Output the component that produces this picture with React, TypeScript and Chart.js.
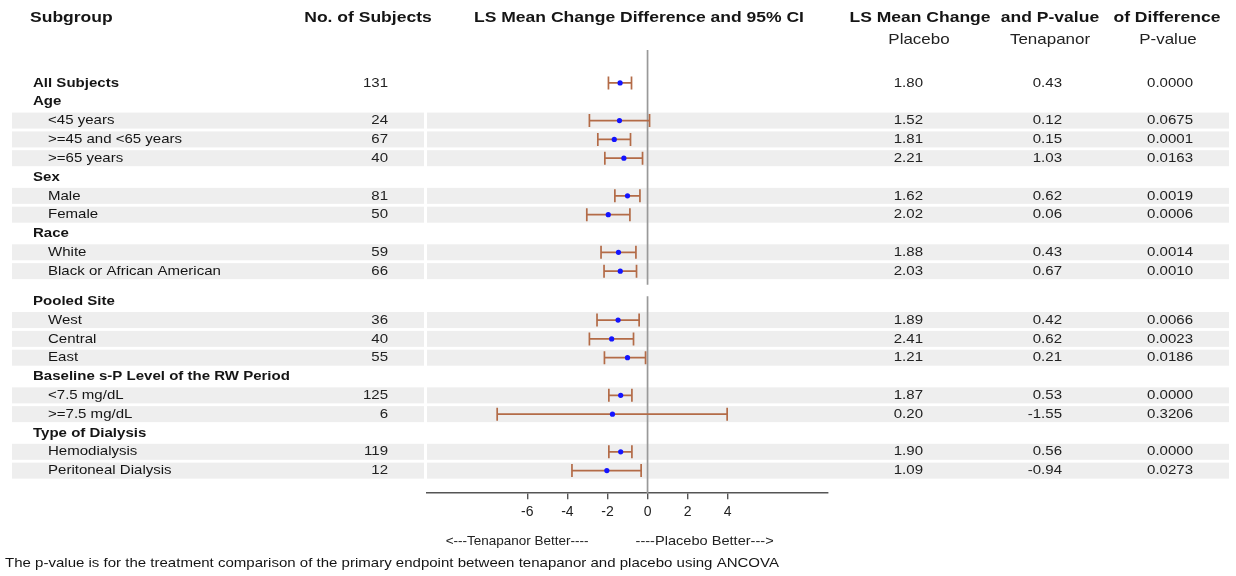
import React, { useEffect, useRef } from "react";
import { Chart, registerables } from "chart.js";

Chart.register(...registerables);

// ---------------- DATA ----------------
const subgroups = [
  "All Subjects", "Age", "<45 years", ">=45 and <65 years", ">=65 years",
  "Sex", "Male", "Female", "Race", "White", "Black or African American",
  "Pooled Site", "West", "Central", "East",
  "Baseline s-P Level of the RW Period", "<7.5 mg/dL", ">=7.5 mg/dL",
  "Type of Dialysis", "Hemodialysis", "Peritoneal Dialysis",
];
// 0 = bold heading row, 1 = indented subgroup row (shaded)
const rowLevel = [0, 0, 1, 1, 1, 0, 1, 1, 0, 1, 1, 0, 1, 1, 1, 0, 1, 1, 0, 1, 1];
const subjects = [131, null, 24, 67, 40, null, 81, 50, null, 59, 66, null, 36, 40, 55, null, 125, 6, null, 119, 12];
const placeboMean = [1.80, null, 1.52, 1.81, 2.21, null, 1.62, 2.02, null, 1.88, 2.03, null, 1.89, 2.41, 1.21, null, 1.87, 0.20, null, 1.90, 1.09];
const tenapanorMean = [0.43, null, 0.12, 0.15, 1.03, null, 0.62, 0.06, null, 0.43, 0.67, null, 0.42, 0.62, 0.21, null, 0.53, -1.55, null, 0.56, -0.94];
const pValues = ["0.0000", "", "0.0675", "0.0001", "0.0163", "", "0.0019", "0.0006", "", "0.0014", "0.0010", "", "0.0066", "0.0023", "0.0186", "", "0.0000", "0.3206", "", "0.0000", "0.0273"];
const diffEstimate = [-1.37, null, -1.40, -1.66, -1.18, null, -1.00, -1.96, null, -1.45, -1.36, null, -1.47, -1.79, -1.00, null, -1.34, -1.75, null, -1.34, -2.03];
const ciLower = [-1.95, null, -2.90, -2.48, -2.13, null, -1.63, -3.03, null, -2.32, -2.17, null, -2.52, -2.90, -2.15, null, -1.93, -7.50, null, -1.93, -3.77];
const ciUpper = [-0.80, null, 0.10, -0.85, -0.25, null, -0.38, -0.88, null, -0.58, -0.55, null, -0.42, -0.70, -0.10, null, -0.78, 3.97, null, -0.78, -0.32];
const xTicks = [-6, -4, -2, 0, 2, 4];

// page break between "Race" block and "Pooled Site" block
const GAP_INDEX = 11;
const GAP_SIZE = 0.6;
const rowPos = subgroups.map((_, i) => i + (i >= GAP_INDEX ? GAP_SIZE : 0));

// ---------------- STYLE ----------------
const FONT = "'Liberation Sans', Arial, sans-serif";
const SX = 1.13; // horizontal stretch of table text
const TEXT = "#151515";
const NUM = "#222222";
const BAND = "#eeeeee";
const CI_COLOR = "#b36b47";
const DOT_COLOR = "#1414ff";

function drawText(
  ctx: CanvasRenderingContext2D,
  text: string,
  x: number,
  y: number,
  align: "left" | "right" | "center",
  font: string,
  color = TEXT,
  sx = SX
) {
  ctx.save();
  ctx.font = font;
  ctx.fillStyle = color;
  ctx.textBaseline = "middle";
  ctx.textAlign = "left";
  const w = ctx.measureText(text).width * sx;
  const left = align === "left" ? x : align === "right" ? x - w : x - w / 2;
  ctx.translate(left, y);
  ctx.scale(sx, 1);
  ctx.fillText(text, 0, 0);
  ctx.restore();
}

const forestPlugin = {
  id: "forest",
  beforeDraw(chart: any) {
    const { ctx, scales } = chart;
    const y = scales.y;
    ctx.save();
    ctx.fillStyle = BAND;
    subgroups.forEach((_, i) => {
      if (rowLevel[i] !== 1) return;
      const py = y.getPixelForValue(rowPos[i]);
      ctx.fillRect(12, py - 8, 412, 16);
      ctx.fillRect(427, py - 8, 802, 16);
    });
    ctx.restore();
  },
  beforeDatasetsDraw(chart: any) {
    const { ctx, scales, chartArea } = chart;
    const x = scales.x;
    const y = scales.y;
    // reference line at 0 with page break
    const x0 = x.getPixelForValue(0);
    const breakTop = y.getPixelForValue(rowPos[GAP_INDEX - 1]) + 13.5;
    const breakBot = y.getPixelForValue(rowPos[GAP_INDEX]) - 5;
    ctx.save();
    ctx.strokeStyle = "#999999";
    ctx.lineWidth = 1.7;
    ctx.beginPath();
    ctx.moveTo(x0, chartArea.top);
    ctx.lineTo(x0, breakTop);
    ctx.moveTo(x0, breakBot);
    ctx.lineTo(x0, chartArea.bottom);
    ctx.stroke();
    // confidence intervals
    ctx.strokeStyle = CI_COLOR;
    ctx.lineWidth = 1.7;
    subgroups.forEach((_, i) => {
      const lo = ciLower[i];
      const hi = ciUpper[i];
      if (lo == null || hi == null) return;
      const py = y.getPixelForValue(rowPos[i]);
      const pl = x.getPixelForValue(lo);
      const ph = x.getPixelForValue(hi);
      ctx.beginPath();
      ctx.moveTo(pl, py);
      ctx.lineTo(ph, py);
      ctx.moveTo(pl, py - 6.5);
      ctx.lineTo(pl, py + 6.5);
      ctx.moveTo(ph, py - 6.5);
      ctx.lineTo(ph, py + 6.5);
      ctx.stroke();
    });
    ctx.restore();
  },
  afterDraw(chart: any) {
    const { ctx, scales } = chart;
    const x = scales.x;
    const y = scales.y;
    const hBold = `bold 15.5px ${FONT}`;
    const hReg = `15px ${FONT}`;
    const rBold = `bold 13.3px ${FONT}`;
    const rReg = `13.3px ${FONT}`;
    // column headers
    drawText(ctx, "Subgroup", 30, 18, "left", hBold);
    drawText(ctx, "No. of Subjects", 368, 18, "center", hBold);
    drawText(ctx, "LS Mean Change Difference and 95% CI", 639, 18, "center", hBold);
    drawText(ctx, "LS Mean Change", 920, 18, "center", hBold);
    drawText(ctx, "and P-value", 1050, 18, "center", hBold);
    drawText(ctx, "of Difference", 1167, 18, "center", hBold);
    drawText(ctx, "Placebo", 919, 40, "center", hReg, NUM);
    drawText(ctx, "Tenapanor", 1050, 40, "center", hReg, NUM);
    drawText(ctx, "P-value", 1168, 40, "center", hReg, NUM);
    // rows
    subgroups.forEach((label, i) => {
      const py = y.getPixelForValue(rowPos[i]);
      const lvl = rowLevel[i];
      drawText(ctx, label, lvl === 0 ? 33 : 48, py, "left", lvl === 0 ? rBold : rReg);
      if (subjects[i] != null) drawText(ctx, String(subjects[i]), 388, py, "right", rReg, NUM);
      if (placeboMean[i] != null) drawText(ctx, placeboMean[i]!.toFixed(2), 923, py, "right", rReg, NUM);
      if (tenapanorMean[i] != null) drawText(ctx, tenapanorMean[i]!.toFixed(2), 1062, py, "right", rReg, NUM);
      if (pValues[i]) drawText(ctx, pValues[i], 1193, py, "right", rReg, NUM);
    });
    // direction labels under the axis
    const x0 = x.getPixelForValue(0);
    drawText(ctx, "<---Tenapanor Better----", x0 - 59, 541, "right", `13.5px ${FONT}`, NUM, 1.0);
    drawText(ctx, "----Placebo Better--->", x0 - 12, 541, "left", `13.5px ${FONT}`, NUM, 1.08);
    // footnote
    drawText(
      ctx,
      "The p-value is for the treatment comparison of the primary endpoint between tenapanor and placebo using ANCOVA",
      5,
      563,
      "left",
      rReg
    );
  },
};

export default function App() {
  const ref = useRef<HTMLCanvasElement | null>(null);

  useEffect(() => {
    document.body.style.margin = "0";
    const canvas = ref.current;
    if (!canvas) return;
    const points = subgroups
      .map((_, i) => (diffEstimate[i] == null ? null : { x: diffEstimate[i] as number, y: rowPos[i] }))
      .filter((p) => p !== null);
    const chart = new Chart(canvas, {
      type: "scatter",
      data: {
        datasets: [
          {
            data: points as any,
            pointRadius: 2.6,
            pointHoverRadius: 2.6,
            pointBackgroundColor: DOT_COLOR,
            pointBorderWidth: 0,
          },
        ],
      },
      options: {
        animation: false,
        responsive: false,
        devicePixelRatio: 1,
        events: [],
        layout: { padding: { left: 427, right: 408, top: 50, bottom: 50 } },
        plugins: { legend: { display: false }, tooltip: { enabled: false } },
        scales: {
          x: {
            type: "linear",
            min: -11,
            max: 9,
            afterBuildTicks: (scale: any) => {
              scale.ticks = xTicks.map((v) => ({ value: v }));
            },
            border: { display: true, color: "#555555", width: 1.6 },
            grid: { display: true, drawOnChartArea: false, drawTicks: true, tickLength: 6, color: "#555555", lineWidth: 1.4 },
            ticks: { color: NUM, font: { family: FONT, size: 14 }, padding: 5, maxRotation: 0 },
          },
          y: {
            type: "linear",
            display: false,
            reverse: true,
            min: -1.75,
            max: 21.8,
          },
        },
      },
      plugins: [forestPlugin],
    });
    return () => chart.destroy();
  }, []);

  return (
    <div style={{ width: 1236, height: 576, background: "#fff" }}>
      <canvas ref={ref} width={1236} height={576} style={{ display: "block" }} />
    </div>
  );
}
